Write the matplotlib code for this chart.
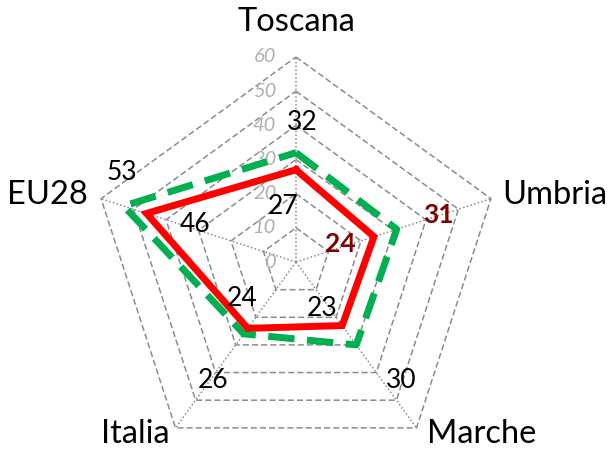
import numpy as np
import matplotlib
matplotlib.use("Agg")
import matplotlib.pyplot as plt

categories = ["Toscana", "Umbria", "Marche", "Italia", "EU28"]
red_values = [27, 24, 23, 24, 46]
green_values = [32, 31, 30, 26, 53]
ticks = [0, 10, 20, 30, 40, 50, 60]
rmax = 60

plt.rcParams['font.family'] = ['Lato', 'DejaVu Sans']

fig = plt.figure(figsize=(6.15, 4.5), dpi=100)
ax = fig.add_axes([0, 0, 1, 1])
s = 205 / 60.0
ax.set_xlim(-296 / s, (615 - 296) / s)
ax.set_ylim(-188 / s, 262 / s)
ax.axis('off')

n = len(categories)
ang = np.arange(n) * 2 * np.pi / n

def xy(vals):
    v = np.asarray(vals, float)
    return v * np.sin(ang), v * np.cos(ang)

# grid polygons
for t in ticks[1:]:
    x, y = xy([t] * n)
    ax.plot(np.r_[x, x[0]], np.r_[y, y[0]], color='#8c8c8c', lw=1.1,
            ls=(0, (4, 2)), zorder=1)
# spokes
for a in ang:
    ax.plot([0, rmax * np.sin(a)], [0, rmax * np.cos(a)], color='#8c8c8c',
            lw=1.1, ls=(0, (1, 1.5)), zorder=1)

# tick labels
for t in ticks:
    ax.text(-5.8, t, str(t), ha='right', va='center', fontsize=14.5,
            style='italic', color='#b0b0b0', zorder=2)

# series
x, y = xy(green_values)
ax.plot(np.r_[x, x[0]], np.r_[y, y[0]], color='#00b050', lw=5,
        ls=(0, (3.8, 1.8)), zorder=3, solid_joinstyle='miter')
x, y = xy(red_values)
ax.plot(np.r_[x, x[0]], np.r_[y, y[0]], color='#ff0000', lw=5,
        zorder=4, solid_joinstyle='miter')

# category labels
cat_pos = [(296, 22), (555, 195), (482, 434), (135, 434), (47, 195)]
for c, (px, py) in zip(categories, cat_pos):
    ax.text((px - 296) / s, (262 - py) / s, c, ha='center', va='center',
            fontsize=23.5, color='black')

# data labels
red_pos = [(283, 207), (340, 244), (322, 308), (242, 298), (195, 224)]
green_pos = [(302, 122), (438, 215), (401, 380), (213, 380), (122, 172)]
for vals, poss in ((red_values, red_pos), (green_values, green_pos)):
    for i, (v, (px, py)) in enumerate(zip(vals, poss)):
        bold = categories[i] == 'Umbria'
        ax.text((px - 296) / s, (262 - py) / s, str(v), ha='center',
                va='center', fontsize=19,
                color='#7f0000' if bold else 'black',
                fontweight='bold' if bold else 'normal', zorder=5)

fig.savefig('out.png', dpi=100)
